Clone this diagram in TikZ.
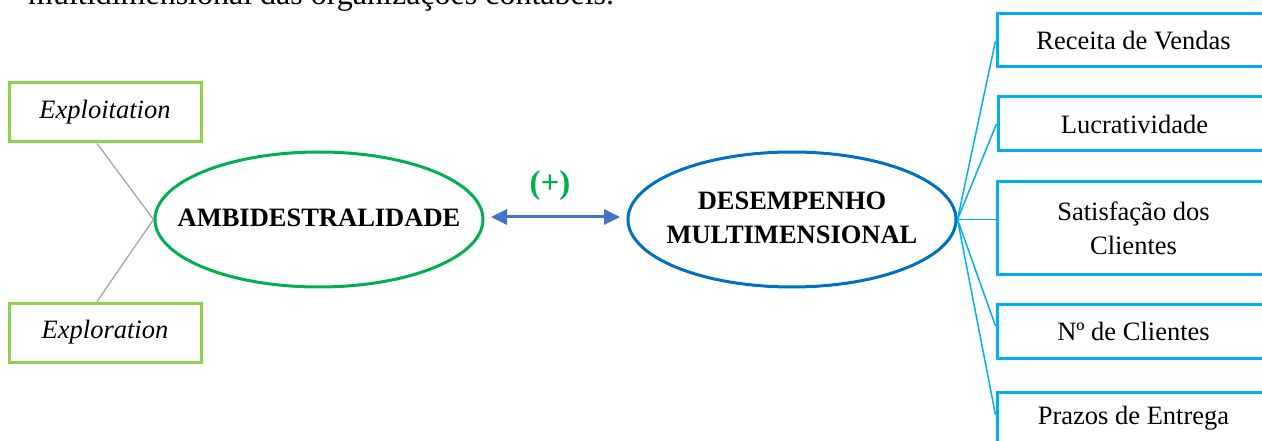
\documentclass[tikz,border=0pt]{standalone}
\usepackage{fontspec}
\setmainfont{Liberation Serif}
\usetikzlibrary{shapes.geometric,arrows.meta,calc}
\definecolor{lgreen}{HTML}{92D050}
\definecolor{dgreen}{HTML}{00B050}
\definecolor{dblue}{HTML}{0070C0}
\definecolor{lblue}{HTML}{00B0F0}
\definecolor{arrblue}{HTML}{4472C4}
\definecolor{lgray}{HTML}{A6A6A6}
\newcommand{\zerow}[1]{\makebox[0pt]{\begin{tabular}{@{}c@{}}#1\end{tabular}}}
\tikzset{
  txt/.style={font=\fontsize{26.5}{34}\selectfont, inner sep=0pt, align=center},
  gbox/.style={txt, draw=lgreen, line width=3pt, minimum width=192pt, minimum height=59pt},
  bbox/.style={txt, draw=lblue, line width=3pt, minimum width=273pt},
  ell/.style={txt, ellipse, line width=3pt, minimum width=328pt, minimum height=135pt, font=\fontsize{26.5}{34}\selectfont\bfseries},
  glink/.style={draw=lgray, line width=1.3pt},
  blink/.style={draw=lblue, line width=1.5pt},
}
\begin{document}
\begin{tikzpicture}[x=1pt,y=-1pt]
\clip (0,0) rectangle (1262,441);
\fill[white] (0,0) rectangle (1262,441);
\node[txt, font=\fontsize{32}{38}\selectfont, anchor=base west] (top) at (28,5) {multidimensional das organizações contábeis.};
\node[gbox] (e1) at (105,112.5) {\itshape Exploitation};
\node[gbox] (e2) at (105,332.5) {\itshape Exploration};
\node[ell, draw=dgreen] (amb) at (319,219.5) {\zerow{AMBIDESTRALIDADE}};
\node[ell, draw=dblue] (des) at (792,219.5) {\zerow{DESEMPENHO\\MULTIMENSIONAL}};
\node[txt, font=\fontsize{33}{38}\selectfont\bfseries, text=dgreen] (plus) at (550,186) {(+)};
\coordinate (al) at (491,217);
\coordinate (ar) at (620,217);
\draw[arrblue, line width=3pt, {Triangle[length=16pt,width=15pt]}-{Triangle[length=16pt,width=15pt]}] (al) -- (ar);
\node[bbox, minimum height=53pt] (b1) at (1133.5,40.5) {Receita de Vendas};
\node[bbox, minimum height=54pt] (b2) at (1134.5,124) {Lucratividade};
\node[bbox, minimum height=92pt] (b3) at (1133.5,228) {Satisfação dos\\Clientes};
\node[bbox, minimum height=54pt] (b4) at (1133.5,331) {Nº de Clientes};
\node[bbox, minimum height=53pt] (b5) at (1133.5,418.5) {Prazos de Entrega};
\draw[glink] ($(e1.south)+(-8,0)$) -- (amb.west);
\draw[glink] ($(e2.north)+(-8,0)$) -- (amb.west);
\draw[blink] (des.east) -- ($(b1.west)+(0,0.5)$);
\draw[blink] (des.east) -- (b2.west);
\draw[blink] (des.east) -- (des.east -| b3.west);
\draw[blink] (des.east) -- ($(b4.west)+(0,-5)$);
\draw[blink] (des.east) -- ($(b5.west)+(0,-3.5)$);
\end{tikzpicture}
\end{document}
